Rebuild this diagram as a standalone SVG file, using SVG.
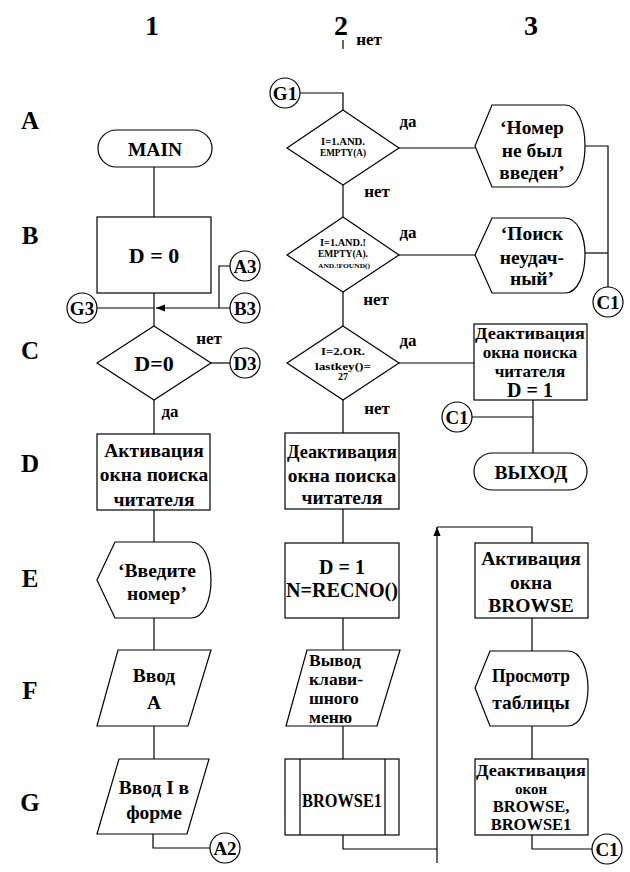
<svg xmlns="http://www.w3.org/2000/svg" width="630" height="872" viewBox="0 0 630 872">
<style>
.s{fill:#fff;stroke:#000;stroke-width:1.2}
.l{fill:none;stroke:#000;stroke-width:1.2}
text{font-family:"Liberation Serif","Times New Roman",serif;font-weight:bold;fill:#000;text-anchor:middle}
.t{font-size:19.5px}
.big{font-size:22px}
.hd{font-size:28px}
.row{font-size:25px}
.lb{font-size:17px}
.c{font-size:19px}
.dm{font-size:10px}
</style>
<defs>
<marker id="ar" viewBox="0 0 10 10" refX="10" refY="5" markerWidth="9" markerHeight="9" markerUnits="userSpaceOnUse" orient="auto">
<path d="M0,1 L10,5 L0,9 z" fill="#000"/>
</marker>
</defs>
<rect width="630" height="872" fill="#fff"/>
<g font-family="Liberation Serif, Times New Roman, serif">
<g id="headers">
<text class="hd" x="152" y="35">1</text>
<text class="hd" x="341" y="35">2</text>
<text class="hd" x="531" y="35">3</text>
<text class="lb" x="369" y="45">нет</text>
<text class="row" x="30" y="129">A</text>
<text class="row" x="30" y="244">B</text>
<text class="row" x="30" y="359">C</text>
<text class="row" x="30" y="472">D</text>
<text class="row" x="30" y="587">E</text>
<text class="row" x="30" y="699">F</text>
<text class="row" x="30" y="811">G</text>
</g>
<g id="connectors">
<line class="l" x1="343" y1="40" x2="343" y2="49"/>
<line class="l" x1="154" y1="167" x2="154" y2="217"/>
<line class="l" x1="154" y1="293" x2="154" y2="326"/>
<line class="l" x1="230" y1="308" x2="156" y2="308" marker-end="url(#ar)"/>
<line class="l" x1="154" y1="308" x2="97" y2="308"/>
<polyline class="l" points="230,266 219,266 219,308"/>
<line class="l" x1="211" y1="363" x2="230" y2="363"/>
<line class="l" x1="154" y1="400" x2="154" y2="434"/>
<line class="l" x1="154" y1="510" x2="154" y2="542"/>
<line class="l" x1="154" y1="618" x2="154" y2="650"/>
<line class="l" x1="154" y1="726" x2="154" y2="759"/>
<polyline class="l" points="153,834 153,848 210,848"/>
<polyline class="l" points="300,93 343,93 343,110"/>
<line class="l" x1="343" y1="185" x2="343" y2="217"/>
<line class="l" x1="343" y1="292" x2="343" y2="326"/>
<line class="l" x1="343" y1="400" x2="343" y2="433"/>
<line class="l" x1="343" y1="509" x2="343" y2="543"/>
<line class="l" x1="343" y1="618" x2="343" y2="650"/>
<line class="l" x1="343" y1="726" x2="343" y2="759"/>
<polyline class="l" points="343,835 343,849 437,849"/>
<line class="l" x1="437" y1="863" x2="437" y2="527" marker-end="url(#ar)"/>
<polyline class="l" points="437,527 532,527 532,543"/>
<line class="l" x1="399" y1="148" x2="475" y2="148"/>
<line class="l" x1="399" y1="255" x2="475" y2="255"/>
<line class="l" x1="399" y1="363" x2="474" y2="363"/>
<polyline class="l" points="585,146 608,146 608,287"/>
<line class="l" x1="585" y1="253" x2="608" y2="253"/>
<line class="l" x1="533" y1="400" x2="533" y2="453"/>
<line class="l" x1="472" y1="417" x2="533" y2="417"/>
<line class="l" x1="532" y1="618" x2="532" y2="651"/>
<line class="l" x1="532" y1="726" x2="532" y2="759"/>
<polyline class="l" points="532,835 532,849 592,849"/>
</g>
<g id="labels">
<text class="lb" x="209" y="344">нет</text>
<text class="lb" x="170" y="417">да</text>
<text class="lb" x="408" y="127">да</text>
<text class="lb" x="377" y="197">нет</text>
<text class="lb" x="408" y="238">да</text>
<text class="lb" x="376" y="305">нет</text>
<text class="lb" x="408" y="346">да</text>
<text class="lb" x="377" y="414">нет</text>
</g>
<g id="main">
<rect class="s" x="98" y="130" width="114" height="37" rx="18.5"/>
<text class="t" x="155" y="156">MAIN</text>
</g>
<g id="d0">
<rect class="s" x="97" y="217" width="114" height="76"/>
<text class="big" x="154" y="263">D = 0</text>
</g>
<g id="a3">
<circle class="s" cx="245" cy="266" r="15"/>
<text class="c" x="245" y="273">A3</text>
</g>
<g id="b3">
<circle class="s" cx="245" cy="308" r="15"/>
<text class="c" x="245" y="315">B3</text>
</g>
<g id="g3">
<circle class="s" cx="82" cy="308" r="15"/>
<text class="c" x="82" y="315">G3</text>
</g>
<g id="dec-d0">
<polygon class="s" points="154,326 211,363 154,400 97,363"/>
<text class="big" x="154" y="371">D=0</text>
</g>
<g id="d3">
<circle class="s" cx="245" cy="363" r="15"/>
<text class="c" x="245" y="370">D3</text>
</g>
<g id="act1">
<rect class="s" x="97" y="434" width="113" height="76"/>
<text class="t" x="154" y="457">Активация</text>
<text class="t" x="154" y="481">окна поиска</text>
<text class="t" x="154" y="506">читателя</text>
</g>
<g id="disp1">
<path class="s" d="M97,580 L115,542 L191,542 C204,542 211,560 211,580 C211,600 204,618 191,618 L115,618 Z"/>
<text class="t" x="157" y="577">‘Введите</text>
<text class="t" x="157" y="600">номер’</text>
</g>
<g id="in1">
<polygon class="s" points="118,650 211,650 188,726 97,726"/>
<text class="t" x="154" y="682">Ввод</text>
<text class="t" x="154" y="709">A</text>
</g>
<g id="in2">
<polygon class="s" points="119,759 209,759 187,834 97,834"/>
<text class="t" x="154" y="794">Ввод I в</text>
<text class="t" x="154" y="819">форме</text>
</g>
<g id="a2">
<circle class="s" cx="225" cy="848" r="15"/>
<text class="c" x="225" y="855">A2</text>
</g>
<g id="g1">
<circle class="s" cx="285" cy="93" r="15"/>
<text class="c" x="285" y="100">G1</text>
</g>
<g id="dec-a">
<polygon class="s" points="343,110 399,148 343,185 287,148"/>
<text class="dm" x="343" y="145" textLength="44" lengthAdjust="spacingAndGlyphs">I=1.AND.</text>
<text class="dm" x="343" y="156" textLength="46" lengthAdjust="spacingAndGlyphs">EMPTY(A)</text>
</g>
<g id="dec-b">
<polygon class="s" points="343,217 399,255 343,292 287,255"/>
<text class="dm" x="343" y="246" textLength="46" lengthAdjust="spacingAndGlyphs">I=1.AND.!</text>
<text class="dm" x="343" y="257" textLength="50" lengthAdjust="spacingAndGlyphs">EMPTY(A).</text>
<text class="dm" x="344" y="268" style="font-size:7px" textLength="52" lengthAdjust="spacingAndGlyphs">AND.!FOUND()</text>
</g>
<g id="dec-c">
<polygon class="s" points="343,326 399,363 343,400 287,363"/>
<text class="dm" x="343" y="355" textLength="44" lengthAdjust="spacingAndGlyphs">I=2.OR.</text>
<text class="dm" x="343" y="370" textLength="56" lengthAdjust="spacingAndGlyphs">lastkey()=</text>
<text class="dm" x="343" y="380">27</text>
</g>
<g id="deact1">
<rect class="s" x="285" y="433" width="114" height="76"/>
<text class="t" x="342" y="458" textLength="110" lengthAdjust="spacingAndGlyphs">Деактивация</text>
<text class="t" x="342" y="482">окна поиска</text>
<text class="t" x="342" y="504">читателя</text>
</g>
<g id="d1">
<rect class="s" x="285" y="543" width="114" height="75"/>
<text class="t" x="342" y="574" style="font-size:20px">D = 1</text>
<text class="t" x="342" y="597" style="font-size:20px" textLength="112" lengthAdjust="spacingAndGlyphs">N=RECNO()</text>
</g>
<g id="out1">
<polygon class="s" points="307,650 400,650 377,726 286,726"/>
<text class="t" x="309" y="666" style="text-anchor:start;font-size:17.5px">Вывод</text>
<text class="t" x="309" y="685" style="text-anchor:start;font-size:17.5px">клави-</text>
<text class="t" x="309" y="704" style="text-anchor:start;font-size:17.5px">шного</text>
<text class="t" x="309" y="723" style="text-anchor:start;font-size:17.5px">меню</text>
</g>
<g id="browse1">
<rect class="s" x="285" y="759" width="114" height="76"/>
<line class="l" x1="300" y1="759" x2="300" y2="835"/>
<line class="l" x1="385" y1="759" x2="385" y2="835"/>
<text class="t" x="342" y="807" textLength="80" lengthAdjust="spacingAndGlyphs">BROWSE1</text>
</g>
<g id="msg1">
<path class="s" d="M475,146 L492,105 L565,105 C578,105 585,125 585,146 C585,167 578,187 565,187 L492,187 Z"/>
<text class="t" x="532" y="134">‘Номер</text>
<text class="t" x="532" y="157">не был</text>
<text class="t" x="532" y="179">введен’</text>
</g>
<g id="msg2">
<path class="s" d="M475,255 L492,218 L565,218 C578,218 585,236 585,255 C585,274 578,293 565,293 L492,293 Z"/>
<text class="t" x="532" y="240">‘Поиск</text>
<text class="t" x="532" y="264">неудач-</text>
<text class="t" x="532" y="285">ный’</text>
</g>
<g id="c1a">
<circle class="s" cx="608" cy="302" r="15"/>
<text class="c" x="608" y="309">C1</text>
</g>
<g id="deact2">
<rect class="s" x="474" y="324" width="113" height="76"/>
<text class="t" x="530" y="339" style="font-size:17px" textLength="110" lengthAdjust="spacingAndGlyphs">Деактивация</text>
<text class="t" x="530" y="358" style="font-size:17px">окна поиска</text>
<text class="t" x="530" y="377" style="font-size:17px">читателя</text>
<text class="t" x="530" y="397" style="font-size:20px">D = 1</text>
</g>
<g id="c1b">
<circle class="s" cx="457" cy="417" r="15"/>
<text class="c" x="457" y="424">C1</text>
</g>
<g id="exit">
<rect class="s" x="474" y="453" width="113" height="37" rx="18.5"/>
<text class="t" x="531" y="479">ВЫХОД</text>
</g>
<g id="actb">
<rect class="s" x="475" y="543" width="113" height="75"/>
<text class="t" x="531" y="565">Активация</text>
<text class="t" x="531" y="589">окна</text>
<text class="t" x="531" y="612">BROWSE</text>
</g>
<g id="view">
<path class="s" d="M475,688 L490,651 L568,651 C581,651 588,670 588,688 C588,706 581,726 568,726 L490,726 Z"/>
<text class="t" x="531" y="682" textLength="78" lengthAdjust="spacingAndGlyphs">Просмотр</text>
<text class="t" x="531" y="709">таблицы</text>
</g>
<g id="deact3">
<rect class="s" x="475" y="759" width="113" height="76"/>
<text class="t" x="531" y="776" style="font-size:17px" textLength="110" lengthAdjust="spacingAndGlyphs">Деактивация</text>
<text class="t" x="531" y="794" style="font-size:15px">окон</text>
<text class="t" x="531" y="812" style="font-size:16.5px">BROWSE,</text>
<text class="t" x="531" y="830" style="font-size:16.5px">BROWSE1</text>
</g>
<g id="c1c">
<circle class="s" cx="607" cy="849" r="15"/>
<text class="c" x="607" y="856">C1</text>
</g>
</g>
</svg>
